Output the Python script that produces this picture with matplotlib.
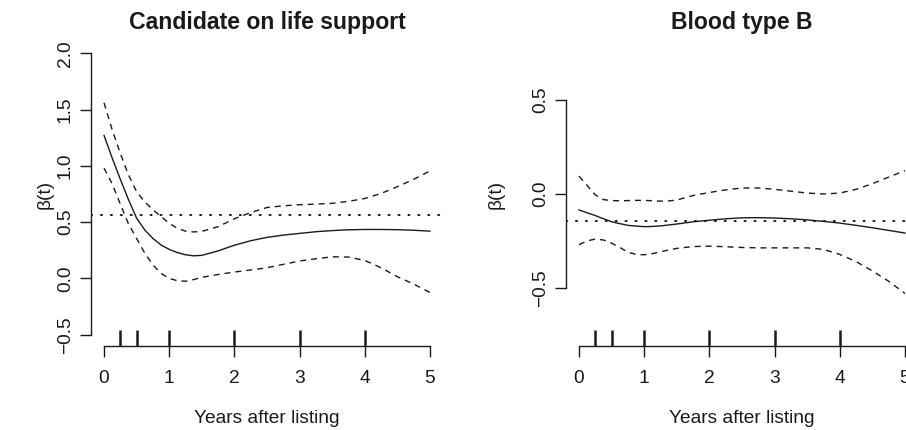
"""Time-varying coefficients beta(t) with pointwise bands, two panels."""

import numpy as np
import matplotlib
matplotlib.use("Agg")
import matplotlib.pyplot as plt

plt.rcParams["font.family"] = ["Liberation Sans", "DejaVu Sans"]

years = [0, 0.125, 0.25, 0.375, 0.5, 0.625, 0.75, 0.875, 1.0, 1.125, 1.25,
         1.375, 1.5, 1.75, 2.0, 2.25, 2.5, 2.75, 3.0, 3.25, 3.5, 3.75, 4.0,
         4.25, 4.5, 4.75, 5.0]

# knot locations shown as rug marks on the x axis
knots = [0.25, 0.5, 1, 2, 3, 4]

# Panel 1: candidate on life support
life_beta = [1.27, 1.07, 0.88, 0.70, 0.535, 0.43, 0.355, 0.297, 0.258, 0.23,
             0.21, 0.201, 0.205, 0.245, 0.295, 0.335, 0.365, 0.385, 0.40,
             0.415, 0.425, 0.432, 0.435, 0.435, 0.433, 0.428, 0.42]
life_upper = [1.56, 1.32, 1.11, 0.92, 0.77, 0.68, 0.61, 0.55, 0.49, 0.445,
              0.42, 0.413, 0.418, 0.46, 0.53, 0.585, 0.63, 0.645, 0.655,
              0.66, 0.667, 0.685, 0.71, 0.755, 0.815, 0.88, 0.955]
life_lower = [0.98, 0.84, 0.66, 0.485, 0.355, 0.225, 0.12, 0.045, 0.0,
              -0.02, -0.025, -0.01, 0.01, 0.035, 0.057, 0.075, 0.095, 0.125,
              0.155, 0.175, 0.192, 0.19, 0.16, 0.095, 0.015, -0.05, -0.125]
life_const = 0.565

# Panel 2: blood type B
bloodb_beta = [-0.085, -0.10, -0.115, -0.132, -0.148, -0.158, -0.167, -0.171,
               -0.174, -0.173, -0.17, -0.165, -0.16, -0.148, -0.14, -0.132,
               -0.127, -0.126, -0.128, -0.132, -0.138, -0.146, -0.155, -0.167,
               -0.18, -0.194, -0.208]
bloodb_upper = [0.095, 0.045, -0.005, -0.03, -0.035, -0.036, -0.035, -0.034,
                -0.034, -0.036, -0.038, -0.037, -0.032, -0.008, 0.008, 0.022,
                0.032, 0.032, 0.025, 0.015, 0.005, 0.0, 0.005, 0.025, 0.055,
                0.09, 0.125]
bloodb_lower = [-0.27, -0.25, -0.24, -0.245, -0.262, -0.285, -0.31, -0.322,
                -0.324, -0.318, -0.308, -0.298, -0.29, -0.28, -0.278, -0.281,
                -0.285, -0.287, -0.287, -0.287, -0.287, -0.295, -0.322, -0.36,
                -0.41, -0.465, -0.53]
bloodb_const = -0.142

FS = 13.8
INK = "#1a1a1a"

fig = plt.figure(figsize=(9.06, 4.30), dpi=100)

panels = [
    dict(title="Candidate on life support", beta=life_beta, upper=life_upper,
         lower=life_lower, const=life_const, ylim=(-0.6, 2.1),
         yticks=[-0.5, 0.0, 0.5, 1.0, 1.5, 2.0],
         rect=[91 / 906, 84 / 430, 352 / 906, 304 / 430], ylab_x=-0.131),
    dict(title="Blood type B", beta=bloodb_beta, upper=bloodb_upper,
         lower=bloodb_lower, const=bloodb_const, ylim=(-0.81, 0.81),
         yticks=[-0.5, 0.0, 0.5],
         rect=[566 / 906, 84 / 430, 352 / 906, 304 / 430], ylab_x=-0.199),
]

for p in panels:
    ax = fig.add_axes(p["rect"])
    t = np.array(years)
    ax.plot(t, p["beta"], color=INK, lw=1.0)
    ax.plot(t, p["upper"], color=INK, lw=1.0, linestyle=(0, (4.3, 3.6)))
    ax.plot(t, p["lower"], color=INK, lw=1.0, linestyle=(0, (4.3, 3.6)))
    ax.axhline(p["const"], color=INK, lw=1.4, linestyle=(0, (0.6, 4.5)),
               dash_capstyle="round")
    # rug of knots sitting on the x axis
    ax.vlines(knots, 0, 0.053, transform=ax.get_xaxis_transform(),
              color=INK, lw=1.8)

    ax.set_xlim(-0.2, 5.2)
    ax.set_ylim(*p["ylim"])
    ax.set_xticks([0, 1, 2, 3, 4, 5])
    ax.set_yticks(p["yticks"])
    ax.set_yticklabels([f"{v:.1f}".replace("-", "\u2212") for v in p["yticks"]])

    for side in ["top", "right"]:
        ax.spines[side].set_visible(False)
    ax.spines["left"].set_bounds(p["yticks"][0], p["yticks"][-1])
    ax.spines["bottom"].set_bounds(0, 5)
    for side in ["left", "bottom"]:
        ax.spines[side].set_linewidth(1.0)
        ax.spines[side].set_color(INK)

    ax.tick_params(axis="both", direction="out", length=7.9, width=1.0,
                   color=INK, labelsize=FS, labelcolor=INK)
    ax.tick_params(axis="x", pad=9.5)
    ax.tick_params(axis="y", pad=4.5, labelrotation=90)
    for lab in ax.get_yticklabels():
        lab.set_verticalalignment("center")

    ax.set_xlabel("Years after listing", fontsize=FS, color=INK)
    ax.xaxis.set_label_coords(0.5, -0.237)
    ax.xaxis.label.set_verticalalignment("center")
    ax.set_ylabel("\u03b2(t)", fontsize=FS, color=INK)
    ax.yaxis.set_label_coords(p["ylab_x"], 0.5)
    ax.yaxis.label.set_verticalalignment("center")

    ax.set_title(p["title"], fontsize=FS * 1.2, fontweight="bold",
                 color=INK, y=1 + 19 / 304, pad=0, va="center")

fig.savefig("out.png", dpi=100)
